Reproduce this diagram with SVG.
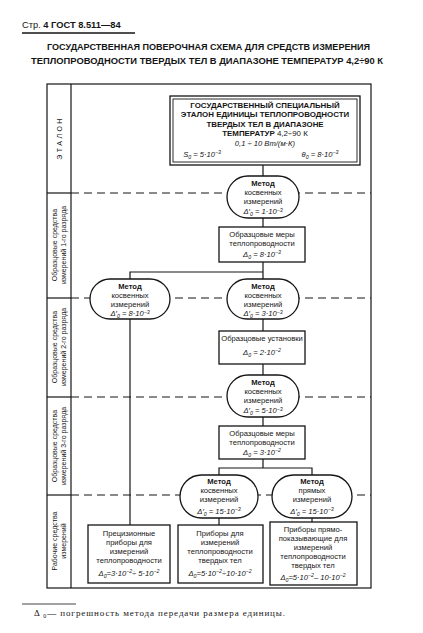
<svg xmlns="http://www.w3.org/2000/svg" width="423" height="633" viewBox="0 0 423 633">
<style>
.t{font-family:"Liberation Sans",Arial,sans-serif;font-size:7.6px;text-anchor:middle;fill:#151515}
.e{font-size:7.9px}
.b{font-weight:bold}
.f{font-style:italic}
.s{font-size:5.2px}
.node{fill:#fff;stroke:#151515;stroke-width:1.3}
.ln{stroke:#151515;stroke-width:1.2;fill:none}
.dash{stroke:#151515;stroke-width:1;stroke-dasharray:8 5;fill:none}
.lab{font-family:"Liberation Sans",Arial,sans-serif;font-size:7px;text-anchor:middle;fill:#151515}
</style>
<rect width="423" height="633" fill="#fff"/>
<g id="header">
<text x="22" y="28" font-family="Liberation Sans,Arial,sans-serif" font-size="9.3" fill="#151515">Стр. <tspan font-weight="bold">4 ГОСТ 8.511—84</tspan></text>
<line x1="22" y1="33" x2="135" y2="33" stroke="#151515" stroke-width="1.3"/>
<text x="47" y="49.5" font-family="Liberation Sans,Arial,sans-serif" font-size="8.8" font-weight="bold" fill="#151515" textLength="323" lengthAdjust="spacingAndGlyphs">ГОСУДАРСТВЕННАЯ ПОВЕРОЧНАЯ СХЕМА ДЛЯ СРЕДСТВ ИЗМЕРЕНИЯ</text>
<text x="31" y="64" font-family="Liberation Sans,Arial,sans-serif" font-size="8.8" font-weight="bold" fill="#151515" textLength="352" lengthAdjust="spacingAndGlyphs">ТЕПЛОПРОВОДНОСТИ ТВЕРДЫХ ТЕЛ В ДИАПАЗОНЕ ТЕМПЕРАТУР 4,2÷90 К</text>
</g>
<g id="frame">
<rect x="47" y="84" width="324" height="504" class="ln" stroke-width="1.4"/>
<line x1="71" y1="84" x2="71" y2="588" class="ln"/>
<line x1="47" y1="193" x2="71" y2="193" class="ln"/>
<line x1="47" y1="298" x2="71" y2="298" class="ln"/>
<line x1="47" y1="397" x2="71" y2="397" class="ln"/>
<line x1="47" y1="495" x2="71" y2="495" class="ln"/>
<line x1="71" y1="193" x2="371" y2="193" class="dash"/>
<line x1="71" y1="298" x2="371" y2="298" class="dash"/>
<line x1="71" y1="397" x2="371" y2="397" class="dash"/>
<line x1="71" y1="495" x2="371" y2="495" class="dash"/>
<text class="lab" transform="rotate(-90)" x="-138" y="62" letter-spacing="2.4">ЭТАЛОН</text>
<text class="lab" transform="rotate(-90)" x="-245" y="57">Образцовые средства</text>
<text class="lab" transform="rotate(-90)" x="-245" y="66">измерений 1-го разряда</text>
<text class="lab" transform="rotate(-90)" x="-347" y="57">Образцовые средства</text>
<text class="lab" transform="rotate(-90)" x="-347" y="66">измерений 2-го разряда</text>
<text class="lab" transform="rotate(-90)" x="-446" y="57">Образцовые средства</text>
<text class="lab" transform="rotate(-90)" x="-446" y="66">измерений 3-го разряда</text>
<text class="lab" transform="rotate(-90)" x="-541" y="57">Рабочие средства</text>
<text class="lab" transform="rotate(-90)" x="-541" y="66">измерений</text>
</g>
<g id="connectors">
<line x1="263" y1="165" x2="263" y2="176" class="ln"/>
<line x1="263" y1="218" x2="263" y2="227" class="ln"/>
<line x1="263" y1="262" x2="263" y2="279" class="ln"/>
<polyline points="130,279 130,272 263,272" class="ln"/>
<line x1="130" y1="319" x2="130" y2="525" class="ln"/>
<line x1="263" y1="319" x2="263" y2="331" class="ln"/>
<line x1="263" y1="364" x2="263" y2="375" class="ln"/>
<line x1="263" y1="417" x2="263" y2="426" class="ln"/>
<line x1="263" y1="459" x2="263" y2="468" class="ln"/>
<polyline points="219,475 219,468 312,468 312,475" class="ln"/>
<line x1="219" y1="518" x2="219" y2="525" class="ln"/>
<line x1="312" y1="518" x2="312" y2="522" class="ln"/>
</g>
<g id="etalon">
<rect x="170" y="96" width="190" height="69" class="node" stroke-width="1.5"/>
<rect x="173" y="99" width="184" height="63" fill="none" stroke="#151515" stroke-width="0.9"/>
<text class="t e b" x="265" y="107.5">ГОСУДАРСТВЕННЫЙ СПЕЦИАЛЬНЫЙ</text>
<text class="t e b" x="265" y="117">ЭТАЛОН ЕДИНИЦЫ ТЕПЛОПРОВОДНОСТИ</text>
<text class="t e b" x="265" y="126.5">ТВЕРДЫХ ТЕЛ В ДИАПАЗОНЕ</text>
<text class="t e b" x="265" y="135.5">ТЕМПЕРАТУР <tspan font-weight="normal">4,2÷90 К</tspan></text>
<text class="t f" x="265" y="146">0,1 ÷ 10 Вт/(м·К)</text>
<text class="t f" x="202" y="157">S<tspan class="s" dy="2">0</tspan><tspan dy="-2"> = 5·10</tspan><tspan class="s" dy="-3">−3</tspan></text>
<text class="t f" x="320" y="157">θ<tspan class="s" dy="2">0</tspan><tspan dy="-2"> = 8·10</tspan><tspan class="s" dy="-3">−3</tspan></text>
</g>
<g id="method1">
<rect x="227" y="176" width="72" height="42" rx="21" class="node"/>
<text class="t b" x="263" y="185.5">Метод</text>
<text class="t" x="263" y="194.5">косвенных</text>
<text class="t" x="263" y="203.5">измерений</text>
<text class="t f" x="263" y="214">Δ′<tspan class="s" dy="2">0</tspan><tspan dy="-2"> = 1·10</tspan><tspan class="s" dy="-2.5">−3</tspan></text>
</g>
<g id="measures1">
<rect x="219" y="227" width="86" height="35" class="node"/>
<text class="t" x="262" y="237">Образцовые меры</text>
<text class="t" x="262" y="246">теплопроводности</text>
<text class="t f" x="262" y="257">Δ<tspan class="s" dy="2">0</tspan><tspan dy="-2"> = 8·10</tspan><tspan class="s" dy="-3">−3</tspan></text>
</g>
<g id="method2L">
<rect x="90" y="279" width="80" height="40" rx="20" class="node"/>
<text class="t b" x="130" y="288.5">Метод</text>
<text class="t" x="130" y="297.5">косвенных</text>
<text class="t" x="130" y="306.5">измерений</text>
<text class="t f" x="130" y="316">Δ′<tspan class="s" dy="2">0</tspan><tspan dy="-2"> = 8·10</tspan><tspan class="s" dy="-2.5">−3</tspan></text>
</g>
<g id="method2C">
<rect x="227" y="279" width="72" height="40" rx="20" class="node"/>
<text class="t b" x="263" y="288.5">Метод</text>
<text class="t" x="263" y="297.5">косвенных</text>
<text class="t" x="263" y="306.5">измерений</text>
<text class="t f" x="263" y="316">Δ′<tspan class="s" dy="2">0</tspan><tspan dy="-2"> = 3·10</tspan><tspan class="s" dy="-2.5">−3</tspan></text>
</g>
<g id="setups2">
<rect x="219" y="331" width="86" height="33" class="node"/>
<text class="t" x="262" y="341">Образцовые установки</text>
<text class="t f" x="262" y="355">Δ<tspan class="s" dy="2">0</tspan><tspan dy="-2"> = 2·10</tspan><tspan class="s" dy="-3">−2</tspan></text>
</g>
<g id="method3">
<rect x="227" y="375" width="72" height="42" rx="21" class="node"/>
<text class="t b" x="263" y="384.5">Метод</text>
<text class="t" x="263" y="393.5">косвенных</text>
<text class="t" x="263" y="402.5">измерений</text>
<text class="t f" x="263" y="413">Δ′<tspan class="s" dy="2">0</tspan><tspan dy="-2"> = 5·10</tspan><tspan class="s" dy="-2.5">−3</tspan></text>
</g>
<g id="measures3">
<rect x="219" y="426" width="86" height="33" class="node"/>
<text class="t" x="262" y="436">Образцовые меры</text>
<text class="t" x="262" y="445">теплопроводности</text>
<text class="t f" x="262" y="455">Δ<tspan class="s" dy="2">0</tspan><tspan dy="-2"> = 3·10</tspan><tspan class="s" dy="-3">−2</tspan></text>
</g>
<g id="method4">
<rect x="180" y="475" width="78" height="43" rx="21.5" class="node"/>
<text class="t b" x="219" y="484">Метод</text>
<text class="t" x="219" y="493">косвенных</text>
<text class="t" x="219" y="502">измерений</text>
<text class="t f" x="219" y="513.5">Δ′<tspan class="s" dy="2">0</tspan><tspan dy="-2"> = 15·10</tspan><tspan class="s" dy="-2.5">−3</tspan></text>
</g>
<g id="method5">
<rect x="272" y="475" width="80" height="43" rx="21.5" class="node"/>
<text class="t b" x="312" y="484">Метод</text>
<text class="t" x="312" y="493">прямых</text>
<text class="t" x="312" y="502">измерений</text>
<text class="t f" x="312" y="513.5">Δ′<tspan class="s" dy="2">0</tspan><tspan dy="-2"> = 15·10</tspan><tspan class="s" dy="-2.5">−3</tspan></text>
</g>
<g id="workA">
<rect x="88" y="525" width="82" height="58" class="node"/>
<text class="t" x="129" y="536">Прецизионные</text>
<text class="t" x="129" y="545">приборы для</text>
<text class="t" x="129" y="554">измерений</text>
<text class="t" x="129" y="563">теплопроводности</text>
<text class="t f" x="129" y="576">Δ<tspan class="s" dy="2">0</tspan><tspan dy="-2">=3·10</tspan><tspan class="s" dy="-3">−2</tspan><tspan dy="3">÷ 5·10</tspan><tspan class="s" dy="-3">−2</tspan></text>
</g>
<g id="workB">
<rect x="178" y="525" width="85" height="58" class="node"/>
<text class="t" x="220" y="536">Приборы для</text>
<text class="t" x="220" y="545">измерений</text>
<text class="t" x="220" y="554">теплопроводности</text>
<text class="t" x="220" y="563">твердых тел</text>
<text class="t f" x="220" y="576">Δ<tspan class="s" dy="2">0</tspan><tspan dy="-2">=5·10</tspan><tspan class="s" dy="-3">−2</tspan><tspan dy="3">÷10·10</tspan><tspan class="s" dy="-3">−2</tspan></text>
</g>
<g id="workC">
<rect x="270" y="522" width="87" height="63" class="node"/>
<text class="t" x="313" y="532">Приборы прямо-</text>
<text class="t" x="313" y="541">показывающие для</text>
<text class="t" x="313" y="550">измерений</text>
<text class="t" x="313" y="559">теплопроводности</text>
<text class="t" x="313" y="568">твердых тел</text>
<text class="t f" x="313" y="580">Δ<tspan class="s" dy="2">0</tspan><tspan dy="-2">=5·10</tspan><tspan class="s" dy="-3">−2</tspan><tspan dy="3">– 10·10</tspan><tspan class="s" dy="-3">−2</tspan></text>
</g>
<g id="footnote">
<line x1="22" y1="604" x2="76" y2="604" stroke="#151515" stroke-width="0.8"/>
<text x="34" y="616" font-family="Liberation Serif,Times New Roman,serif" font-size="9" fill="#151515" textLength="251" lengthAdjust="spacing">Δ <tspan font-size="6" dy="2">0</tspan><tspan dy="-2">— погрешность метода передачи размера единицы.</tspan></text>
</g>
</svg>
